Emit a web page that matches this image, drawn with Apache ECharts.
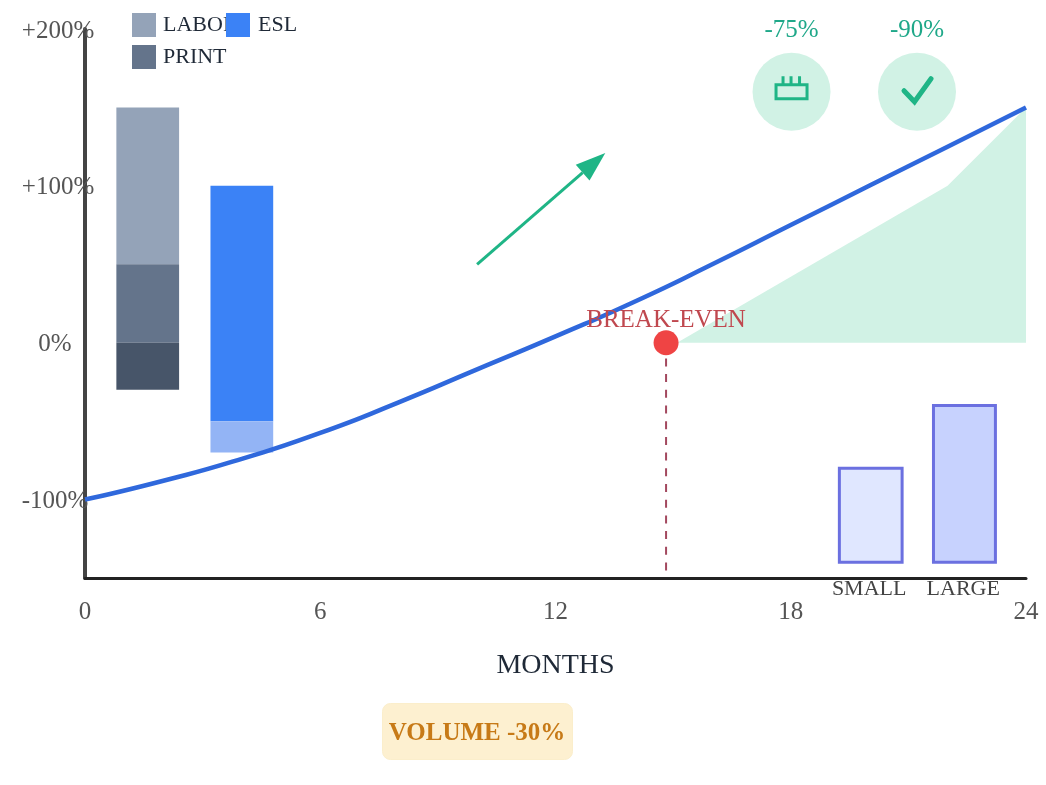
<!DOCTYPE html>
<html>
<head>
<meta charset="utf-8">
<style>html,body{margin:0;padding:0;background:#fff}#c{width:1046px;height:785px}</style>
<script src="https://cdn.jsdelivr.net/npm/echarts@6/dist/echarts.min.js"></script>
</head>
<body>
<div id="c"></div>
<script>
const curveMonths = [0, 2, 4, 6, 8, 10, 12, 14, 16, 18, 20, 22, 24];
const curveValues = [-100, -88, -74, -57.5, -38, -17, 4, 26, 50, 75, 100, 125, 150];
const savingsArea = [[15.1, 0], [22, 100], [24, 150]];
const breakEven = [14.82, 0];
const breakEvenFloor = -146;
// [x start, x end, y start, y end]
const laborBar = [0.8, 2.4, 50, 150];
const printBar = [0.8, 2.4, 0, 50];
const baseBar = [0.8, 2.4, -30, 0];
const eslBar = [3.2, 4.8, -50, 100];
const eslLowerBar = [3.2, 4.8, -70, -50];
const smallBar = [19.24, 20.84, -140, -80];
const largeBar = [21.64, 23.22, -140, -40];
const arrowFrom = [10, 50];
const arrowTo = [13.27, 121];
const badgeMonths = [18.02, 21.22];
const badgeLevels = [160, 160];
const badgeTexts = ['-75%', '-90%'];
const yTickLabels = {'-100': '-100%', '0': '0%', '100': '+100%', '200': '+200%'};

const FONT = '"Liberation Serif"';

function barSeries(name, range, fill, extra) {
  return {
    type: 'custom', name, z: 3, silent: true,
    itemStyle: {color: fill},
    data: [range],
    encode: {x: [0, 1], y: [2, 3]},
    renderItem(p, api) {
      const a = api.coord([api.value(0), api.value(3)]);
      const b = api.coord([api.value(1), api.value(2)]);
      return {
        type: 'rect',
        shape: {x: a[0], y: a[1], width: b[0] - a[0], height: b[1] - a[1]},
        style: {fill, stroke: extra ? extra.stroke : null, lineWidth: extra ? extra.border : 0}
      };
    }
  };
}

function catLabel(name, month) {
  return {
    type: 'custom', z: 6, silent: true, data: [[month, -157]],
    encode: {x: 0, y: 1},
    renderItem(p, api) {
      const c = api.coord([api.value(0), api.value(1)]);
      return {type: 'text', z2: 50, x: c[0], y: c[1], style: {text: name, align: 'center', verticalAlign: 'middle', fill: '#444', font: '22px ' + FONT}};
    }
  };
}

const legendText = pad => ({fontFamily: FONT, fontSize: 22, color: '#1f2937', padding: [2, 0, 0, pad]});

const option = {
  animation: false,
  backgroundColor: '#fff',
  grid: {left: 85, right: 20, top: 29, bottom: 207, containLabel: false},
  legend: [
    {data: ['LABOR'], left: 132, top: 13, textStyle: legendText(2)},
    {data: ['ESL'], left: 226, top: 13, textStyle: legendText(3)},
    {data: ['PRINT'], left: 132, top: 45, textStyle: legendText(2)}
  ].map(l => Object.assign(l, {
    selectedMode: false, itemWidth: 24, itemHeight: 24, padding: 0, itemGap: 0, icon: 'rect'
  })),
  xAxis: {
    type: 'value', min: 0, max: 24, interval: 6,
    name: 'MONTHS', nameLocation: 'middle', nameGap: 74,
    nameTextStyle: {fontFamily: FONT, fontSize: 28, color: '#1f2937'},
    axisLine: {onZero: false, lineStyle: {color: '#222', width: 3}},
    axisTick: {show: false}, splitLine: {show: false},
    axisLabel: {fontFamily: FONT, fontSize: 25, color: '#555', margin: 22, showMinLabel: true, showMaxLabel: true, hideOverlap: false}
  },
  yAxis: {
    type: 'value', min: -150, max: 200, interval: 50,
    axisLine: {show: true, onZero: false, lineStyle: {color: '#444', width: 4}},
    axisTick: {show: false}, splitLine: {show: false},
    axisLabel: {
      fontFamily: FONT, fontSize: 25, color: '#555', margin: 30, align: 'center', hideOverlap: false,
      showMinLabel: true, showMaxLabel: true,
      rich: {
        n: {fontFamily: FONT, fontSize: 25, color: '#555', padding: [4, 0, 0, 0]},
        p: {fontFamily: FONT, fontSize: 25, color: '#555', padding: [4, 0, 0, 6]}
      },
      formatter: v => {
        const t = yTickLabels[String(v)];
        if (!t) return '';
        return (t[0] === '+' ? '{p|' : '{n|') + t + '}';
      }
    }
  },
  series: [
    {
      type: 'line', name: 'savings', z: 2, silent: true, symbol: 'none',
      data: savingsArea, lineStyle: {width: 0, opacity: 0},
      areaStyle: {color: '#d1f2e5', opacity: 1, origin: 0}
    },
    barSeries('LABOR', laborBar, '#94a3b8'),
    barSeries('PRINT', printBar, '#64748b'),
    barSeries('BASE', baseBar, '#475569'),
    barSeries('ESL', eslBar, '#3b82f6'),
    barSeries('ESL LOWER', eslLowerBar, '#93b4f5'),
    barSeries('SMALL', smallBar, '#e0e7ff', {stroke: '#6b70e0', border: 3}),
    barSeries('LARGE', largeBar, '#c7d2fe', {stroke: '#6b70e0', border: 3}),
    {
      type: 'line', name: 'floor', z: 3, silent: true, symbol: 'none',
      data: [[breakEven[0], breakEven[1]], [breakEven[0], breakEvenFloor]],
      lineStyle: {color: '#a3485e', width: 2, type: [8, 7.7]}
    },
    {
      type: 'line', name: 'curve', z: 5, silent: true, symbol: 'none', smooth: 0.6,
      data: curveMonths.map((m, i) => [m, curveValues[i]]),
      lineStyle: {color: '#2f68dc', width: 4.5}
    },
    {
      type: 'scatter', name: 'break-even', z: 7, silent: true, symbol: 'circle', symbolSize: 25,
      data: [breakEven], itemStyle: {color: '#ef4444', opacity: 1},
      label: {show: true, position: 'top', distance: 0, offset: [0, 2.5], formatter: 'BREAK-EVEN', fontFamily: FONT, fontSize: 25, color: '#c0484f', opacity: 1}
    },
    {
      type: 'custom', name: 'arrow', z: 4, silent: true,
      data: [[arrowFrom[0], arrowFrom[1], arrowTo[0], arrowTo[1]]],
      encode: {x: [0, 2], y: [1, 3]},
      renderItem(p, api) {
        const a = api.coord([api.value(0), api.value(1)]);
        const b = api.coord([api.value(2), api.value(3)]);
        const len = Math.hypot(b[0] - a[0], b[1] - a[1]);
        const ux = (b[0] - a[0]) / len, uy = (b[1] - a[1]) / len;
        const mx = b[0] - ux * 30, my = b[1] - uy * 30;
        return {type: 'group', children: [
          {type: 'line', shape: {x1: a[0], y1: a[1], x2: mx, y2: my}, style: {stroke: '#1fb586', lineWidth: 3}},
          {type: 'polygon', shape: {points: [b, [mx - uy * 10.5, my + ux * 10.5], [mx + uy * 10.5, my - ux * 10.5]]}, style: {fill: '#1fb586'}}
        ]};
      }
    },
    {
      type: 'custom', name: 'badges', z: 4, silent: true,
      data: badgeMonths.map((m, i) => [m, badgeLevels[i], i]),
      encode: {x: 0, y: 1},
      renderItem(p, api) {
        const c = api.coord([api.value(0), api.value(1)]);
        const i = api.value(2);
        const stroke = '#1fb586';
        const prong = dx => ({type: 'line', shape: {x1: c[0] + dx, y1: c[1] - 15.5, x2: c[0] + dx, y2: c[1] - 7}, style: {stroke, lineWidth: 3}});
        const icon = i === 0 ? [
          {type: 'rect', shape: {x: c[0] - 15.5, y: c[1] - 7, width: 31, height: 14}, style: {fill: 'none', stroke, lineWidth: 3}},
          prong(-8.5), prong(-0.5), prong(8)
        ] : [
          {type: 'polyline', shape: {points: [[c[0] - 13, c[1] - 1], [c[0] - 2.5, c[1] + 10], [c[0] + 14, c[1] - 13]]}, style: {fill: 'none', stroke, lineWidth: 5, lineCap: 'round', lineJoin: 'miter'}}
        ];
        return {type: 'group', children: [
          {type: 'circle', shape: {cx: c[0], cy: c[1], r: 39}, style: {fill: '#d1f2e5'}},
          {type: 'text', x: c[0], y: c[1] - 61, style: {text: badgeTexts[i], align: 'center', verticalAlign: 'middle', fill: '#1fa889', font: '25px ' + FONT}}
        ].concat(icon)};
      }
    },
    catLabel('SMALL', 20),
    catLabel('LARGE', 22.4)
  ],
  graphic: [{
    type: 'group', left: 382, top: 703,
    children: [
      {type: 'rect', shape: {x: 0, y: 0, width: 190, height: 56, r: 8}, style: {fill: '#fdf0d0', stroke: '#fbeecb', lineWidth: 1}},
      {type: 'text', x: 94.5, y: 30.5, style: {text: 'VOLUME -30%', align: 'center', verticalAlign: 'middle', fill: '#c77a17', font: 'bold 25px ' + FONT}}
    ]
  }]
};
const chart = echarts.init(document.getElementById('c'), null, {renderer: 'canvas', width: 1046, height: 785});
chart.setOption(option);
</script>
</body>
</html>
